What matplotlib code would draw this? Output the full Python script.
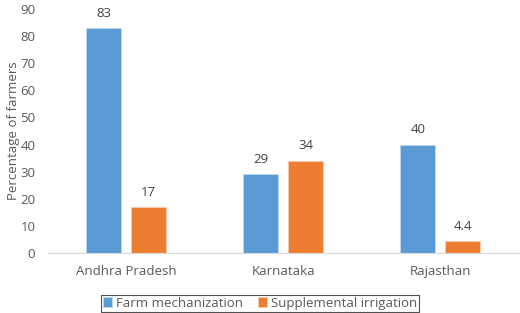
import matplotlib
matplotlib.use('Agg')
import matplotlib.pyplot as plt
import numpy as np

states = ['Andhra Pradesh', 'Karnataka', 'Rajasthan']
farm_mech = [83, 29, 40]
supp_irr = [17, 34, 4.4]
mech_labels = ['83', '29', '40']
irr_labels = ['17', '34', '4.4']

plt.rcParams['font.family'] = ['Open Sans', 'DejaVu Sans']
txt = '#595959'

fig = plt.figure(figsize=(5.2, 3.13), dpi=100)
ax = fig.add_axes([0.092, 0.192, 0.906, 0.779])

x = np.arange(len(states))
w = 0.223
off = 0.143
b1 = ax.bar(x - off, farm_mech, w, color='#5B9BD5', edgecolor='#BDD7EE', linewidth=0.6,
            label='Farm mechanization')
b2 = ax.bar(x + off, supp_irr, w, color='#ED7D31', edgecolor='#F8CBAD', linewidth=0.6,
            label='Supplemental irrigation')
ax.bar_label(b1, labels=mech_labels, padding=6, color='#404040', fontsize=9.5)
ax.bar_label(b2, labels=irr_labels, padding=6, color='#404040', fontsize=9.5)

ax.set_xlim(-0.5, 2.5)
ax.set_ylim(0, 90)
ax.set_yticks(range(0, 91, 10))
ax.set_xticks(x)
ax.set_xticklabels(states)
ax.tick_params(length=0, colors=txt, labelsize=9.5)
ax.tick_params(axis='x', pad=9)
ax.tick_params(axis='y', pad=9)
for s in ['top', 'right', 'left']:
    ax.spines[s].set_visible(False)
ax.spines['bottom'].set_color('#D9D9D9')
ax.set_ylabel('Percentage of farmers', color=txt, fontsize=9.5, labelpad=0)

leg = fig.legend(loc='lower center', bbox_to_anchor=(0.5, 0.0), ncol=2, frameon=True,
                 fancybox=False, edgecolor='#262626', fontsize=9.5, handlelength=0.7,
                 handleheight=0.7, handletextpad=0.3, columnspacing=1.1,
                 borderpad=0.15, borderaxespad=0.1)
for t in leg.get_texts():
    t.set_color(txt)
leg.get_frame().set_linewidth(0.8)

fig.savefig('out.png', dpi=100)
